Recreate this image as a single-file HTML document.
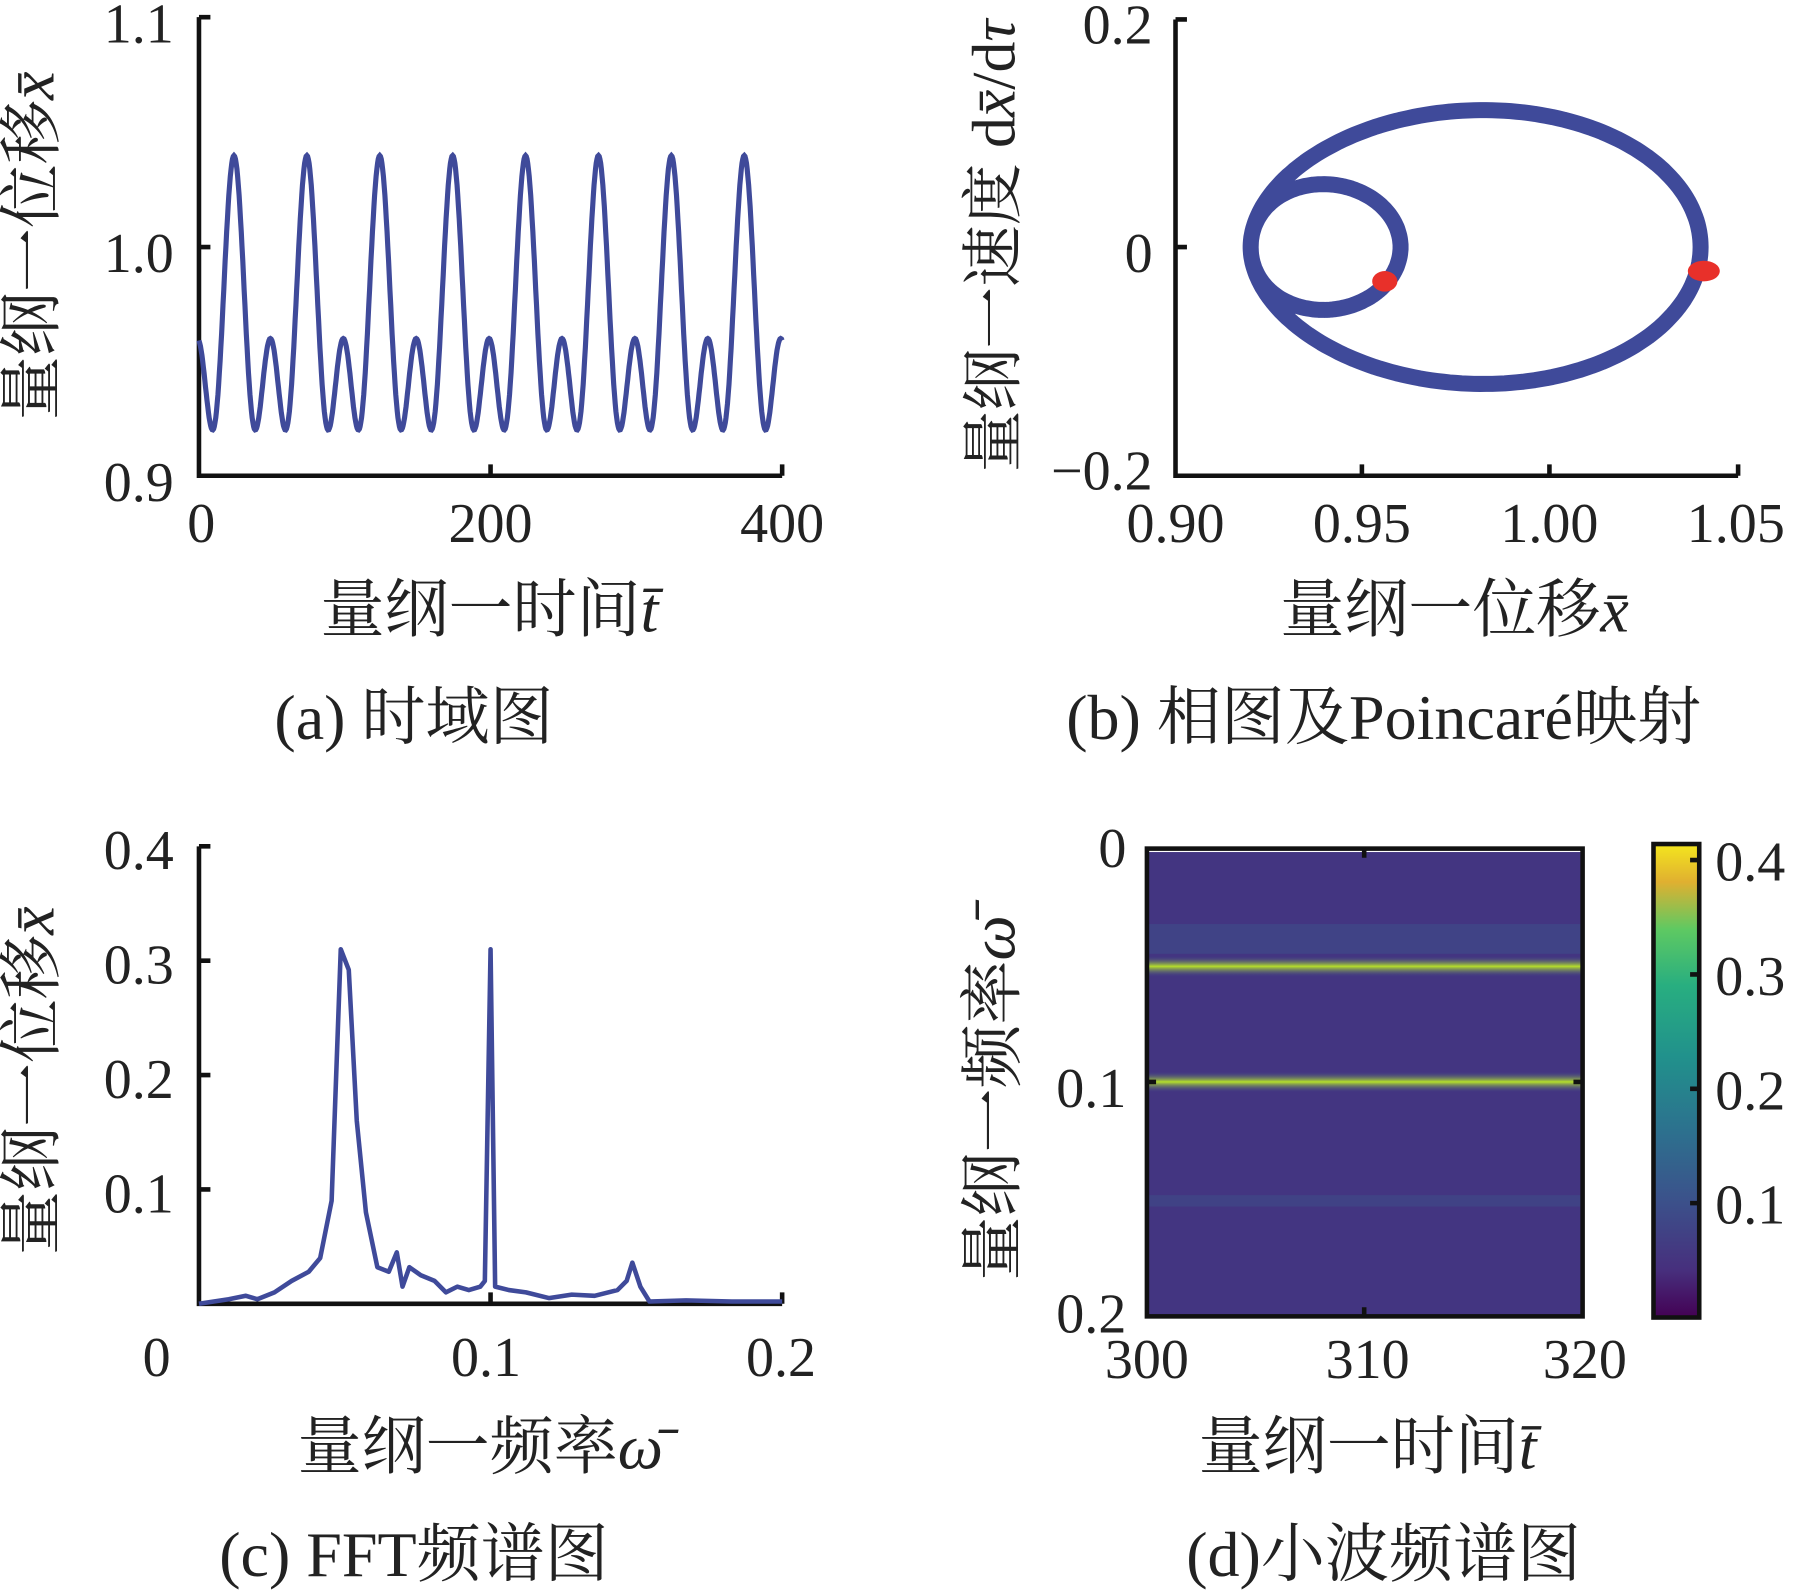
<!DOCTYPE html>
<html><head><meta charset="utf-8"><style>
html,body{margin:0;padding:0;background:#fff;}
svg{display:block;}
text{font-family:"Liberation Serif","Noto Serif CJK SC",serif;fill:#222;}
</style></head><body>
<svg id="s" width="1793" height="1592" viewBox="0 0 1568 1392" preserveAspectRatio="none" xmlns="http://www.w3.org/2000/svg">
<defs>
<linearGradient id="vir" x1="0" y1="1" x2="0" y2="0">
<stop offset="0" stop-color="#440154"/><stop offset="0.1" stop-color="#472f7d"/>
<stop offset="0.25" stop-color="#3b528b"/><stop offset="0.4" stop-color="#2c728e"/>
<stop offset="0.55" stop-color="#21918c"/><stop offset="0.7" stop-color="#28ae80"/>
<stop offset="0.82" stop-color="#5ec962"/><stop offset="0.92" stop-color="#e0b030"/>
<stop offset="1" stop-color="#f4e61e"/></linearGradient>
<linearGradient id="ln" x1="0" y1="0" x2="0" y2="1">
<stop offset="0" stop-color="#3e4c8a" stop-opacity="0"/><stop offset="0.5" stop-color="#b5de2b"/><stop offset="1" stop-color="#3e4c8a" stop-opacity="0"/></linearGradient>
</defs>
<!-- Panel a -->
<path d="M174 15 V416 H684" fill="none" stroke="#111" stroke-width="4"/>
<path d="M174 216 h10 M429 416 v-10 M684 416 v-10 M174 15 h10" stroke="#111" stroke-width="4"/>
<g font-size="49" text-anchor="end"><text x="152" y="37">1.1</text><text x="152" y="238">1.0</text><text x="152" y="438">0.9</text></g>
<g font-size="49" text-anchor="middle"><text x="176" y="474">0</text><text x="429" y="474">200</text><text x="684" y="474">400</text></g>
<text x="428" y="552" font-size="56" text-anchor="middle">量纲一时间<tspan font-style="italic">t̄</tspan></text>
<text transform="translate(47,215) rotate(-90)" font-size="56" text-anchor="middle">量纲一位移<tspan font-style="italic">x̄</tspan></text>
<text x="362" y="646" font-size="56" text-anchor="middle">(a) 时域图</text>
<path id="pa" fill="none" stroke="#3f4a9a" stroke-width="4.5"/>
<!-- Panel b -->
<path d="M1028 17 V416 H1520" fill="none" stroke="#111" stroke-width="4"/>
<path d="M1028 216 h10 M1191 416 v-10 M1355 416 v-10 M1520 416 v-10 M1028 17 h10" stroke="#111" stroke-width="4"/>
<g font-size="49" text-anchor="end"><text x="1008" y="38">0.2</text><text x="1008" y="238">0</text><text x="1008" y="428">−0.2</text></g>
<g font-size="49" text-anchor="middle"><text x="1028" y="474">0.90</text><text x="1191" y="474">0.95</text><text x="1355" y="474">1.00</text><text x="1518" y="474">1.05</text></g>
<text x="1272" y="552" font-size="56" text-anchor="middle">量纲一位移<tspan font-style="italic">x̄</tspan></text>
<text transform="translate(887,215) rotate(-90)" font-size="54" text-anchor="middle">量纲一速度 d<tspan font-style="italic">x̄</tspan>/d<tspan font-style="italic">τ</tspan></text>
<text x="1210" y="646" font-size="56" text-anchor="middle">(b) 相图及Poincaré映射</text>
<path id="pb" fill="none" stroke="#3f4a9a" stroke-width="14" stroke-linejoin="round"/>
<ellipse cx="1211" cy="246" rx="11" ry="9" fill="#e8302a"/>
<ellipse cx="1490" cy="237" rx="14" ry="9" fill="#e8302a"/>
<!-- Panel c -->
<path d="M174 740 V1140 H684" fill="none" stroke="#111" stroke-width="4"/>
<path d="M174 740 h10 M174 840 h10 M174 940 h10 M174 1040 h10 M429 1140 v-10 M684 1140 v-10" stroke="#111" stroke-width="4"/>
<g font-size="49" text-anchor="end"><text x="152" y="760">0.4</text><text x="152" y="860">0.3</text><text x="152" y="960">0.2</text><text x="152" y="1060">0.1</text></g>
<g font-size="49" text-anchor="middle"><text x="137" y="1203">0</text><text x="425" y="1203">0.1</text><text x="683" y="1203">0.2</text></g>
<text x="420" y="1284" font-size="56" text-anchor="middle">量纲一频率<tspan font-style="italic">ω̄</tspan></text>
<text transform="translate(47,945) rotate(-90)" font-size="56" text-anchor="middle">量纲一位移<tspan font-style="italic">x̄</tspan></text>
<text x="362" y="1378" font-size="56" text-anchor="middle">(c) FFT频谱图</text>
<polyline fill="none" stroke="#3f4a9a" stroke-width="4" stroke-linejoin="round" points="174,1140 200,1136 215,1133 225,1136 240,1130 255,1120 270,1112 280,1100 290,1050 298,830 305,848 312,980 320,1060 330,1108 340,1112 347,1095 352,1125 358,1108 368,1115 380,1120 390,1130 400,1125 410,1128 420,1125 424,1120 429,830 433,1125 445,1128 460,1130 480,1135 500,1132 520,1133 540,1128 548,1120 553,1104 560,1125 568,1138 600,1137 640,1138 684,1138"/>
<!-- Panel d -->
<rect x="1003" y="742" width="381" height="409" fill="#433581"/>
<rect x="1003" y="742" width="381" height="3" fill="#fff"/>
<rect x="1003" y="808" width="381" height="26" fill="#3e4f8a" opacity="0.55"/>
<rect x="1003" y="836" width="381" height="18" fill="url(#ln)"/>
<rect x="1003" y="937" width="381" height="18" fill="url(#ln)"/>
<rect x="1003" y="1045" width="381" height="10" fill="#3e4f8a" opacity="0.5"/>
<rect x="1003" y="742" width="381" height="409" fill="none" stroke="#111" stroke-width="4"/>
<path d="M1193 742 v8 M1193 1151 v-8 M1003 946 h8 M1384 946 h-8" stroke="#111" stroke-width="4"/>
<g font-size="49" text-anchor="end"><text x="985" y="758">0</text><text x="985" y="968">0.1</text><text x="985" y="1165">0.2</text></g>
<g font-size="49" text-anchor="middle"><text x="1003" y="1205">300</text><text x="1196" y="1205">310</text><text x="1386" y="1205">320</text></g>
<text x="1196" y="1284" font-size="56" text-anchor="middle">量纲一时间<tspan font-style="italic">t̄</tspan></text>
<text transform="translate(887,960) rotate(-90)" font-size="56" text-anchor="middle">量纲一频率<tspan font-style="italic">ω̄</tspan></text>
<text x="1210" y="1378" font-size="56" text-anchor="middle">(d)小波频谱图</text>
<rect x="1446" y="738" width="40" height="414" fill="url(#vir)" stroke="#111" stroke-width="4"/>
<path d="M1486 752 h-8 M1486 852 h-8 M1486 952 h-8 M1486 1052 h-8" stroke="#111" stroke-width="4"/>
<g font-size="49"><text x="1500" y="770">0.4</text><text x="1500" y="870">0.3</text><text x="1500" y="970">0.2</text><text x="1500" y="1070">0.1</text></g>
</svg>
<script>
var A=0.04,B=0.0373,c=0.9627;
function X(t){var p=2*Math.PI*(t-24)/50;return c+A*Math.cos(p)+B*Math.cos(2*p);}
var d="";
for(var t=0;t<=400;t+=0.5){var px=174+t*510/400,py=216-(X(t)-1)*2000;d+=(t?"L":"M")+px.toFixed(1)+" "+py.toFixed(1);}
document.getElementById("pa").setAttribute("d",d);
var d2="";
for(var i=0;i<=400;i++){var p=2*Math.PI*i/400;var x=c+A*Math.cos(p)+B*Math.cos(2*p);var v=-(A*Math.sin(p)+2*B*Math.sin(2*p))*1.15;
var px=1028+(x-0.9)*3280,py=216-v*1000;d2+=(i?"L":"M")+px.toFixed(1)+" "+py.toFixed(1);}
document.getElementById("pb").setAttribute("d",d2+"Z");
</script>
</body></html>
